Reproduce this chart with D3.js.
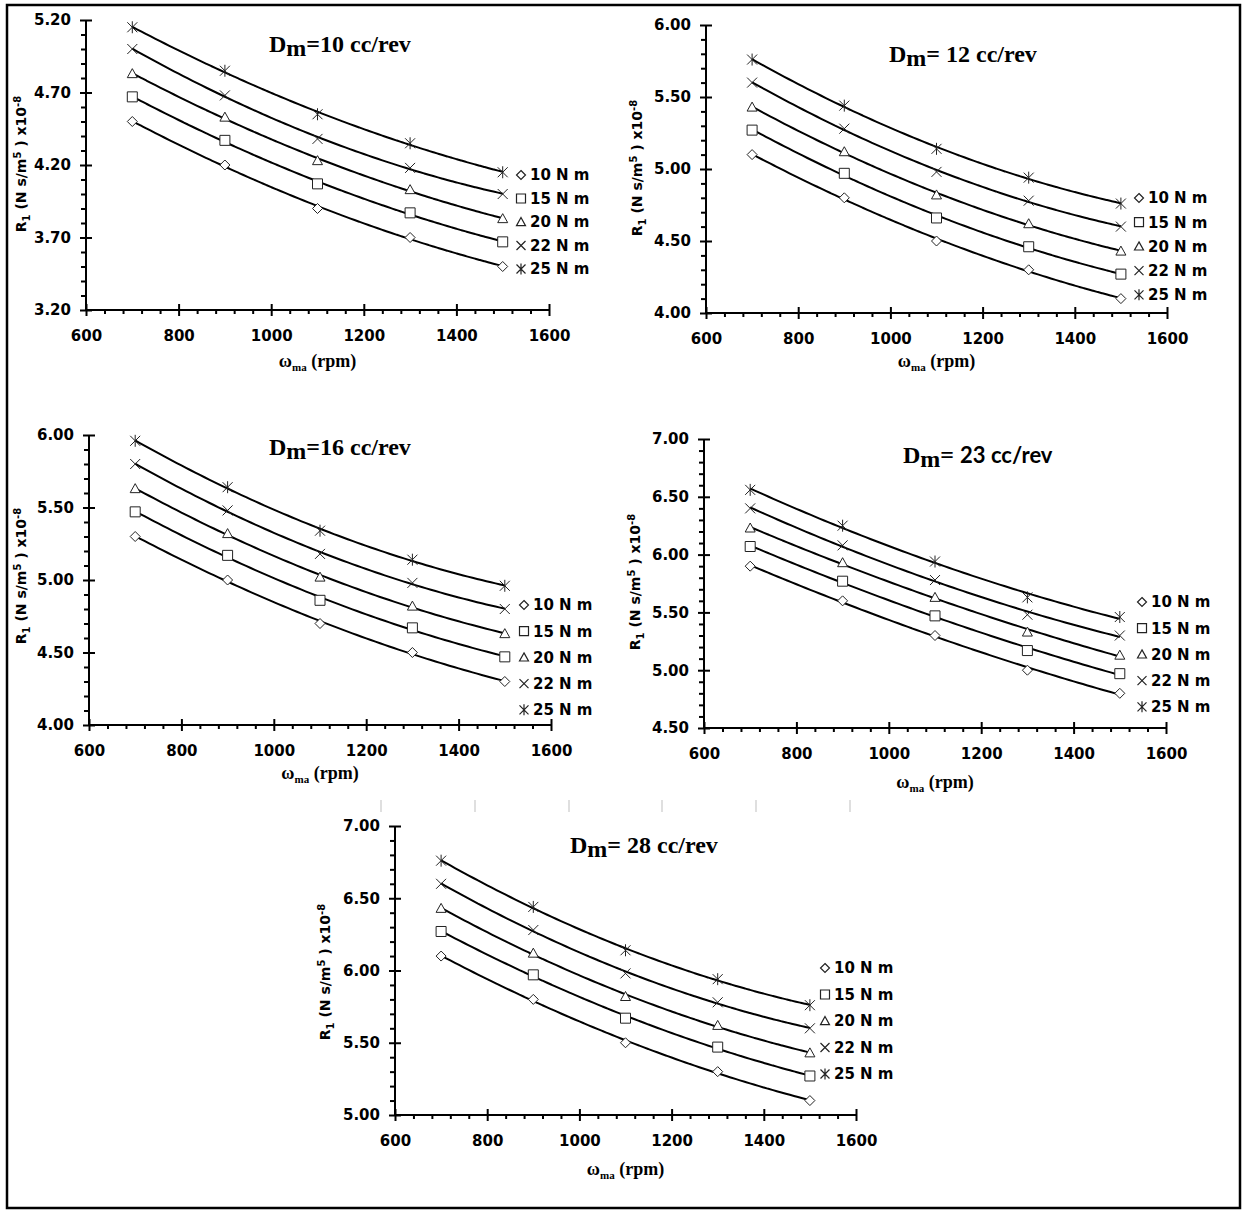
<!DOCTYPE html>
<html lang="en">
<head>
<meta charset="utf-8">
<title>R1 vs motor speed</title>
<script src="https://cdn.jsdelivr.net/npm/d3@7/dist/d3.min.js"></script>
<style>
    body { margin: 0; background: #fff; }
    svg { display: block; }
    .tick text { font: bold 15px "DejaVu Sans", sans-serif; fill: #000; }
    .axis path, .axis line { stroke: #000; stroke-width: 2px; }
    .legend text { font: bold 15px "DejaVu Sans", sans-serif; fill: #000; }
    .ylab { font: bold 14px "DejaVu Sans", sans-serif; fill: #000; }
    .xlab { font: bold 18px "Liberation Serif", serif; fill: #000; }
    .title { font: bold 24px "Liberation Serif", serif; fill: #000; }
</style>
</head>
<body>
<script>
// speeds (rpm) and torque series
const speeds = [700, 900, 1100, 1300, 1500];
const torques = ["10 N m", "15 N m", "20 N m", "22 N m", "25 N m"];
const displacements = ["10", "12", "16", "23", "28"];

// R1 x10^-8, one row per torque
const r1Dm10 = [
    [4.50, 4.20, 3.90, 3.70, 3.50],
    [4.67, 4.37, 4.07, 3.87, 3.67],
    [4.83, 4.53, 4.23, 4.03, 3.83],
    [5.00, 4.68, 4.38, 4.18, 4.00],
    [5.15, 4.85, 4.55, 4.35, 4.15]
];
const r1Dm12 = [
    [5.10, 4.80, 4.50, 4.30, 4.10],
    [5.27, 4.97, 4.66, 4.46, 4.27],
    [5.43, 5.12, 4.82, 4.62, 4.43],
    [5.60, 5.28, 4.98, 4.78, 4.60],
    [5.76, 5.44, 5.14, 4.94, 4.76]
];
const r1Dm16 = [
    [5.30, 5.00, 4.70, 4.50, 4.30],
    [5.47, 5.17, 4.86, 4.67, 4.47],
    [5.63, 5.32, 5.02, 4.82, 4.63],
    [5.80, 5.48, 5.18, 4.98, 4.80],
    [5.96, 5.64, 5.34, 5.14, 4.96]
];
const r1Dm23 = [
    [5.90, 5.60, 5.30, 5.00, 4.80],
    [6.07, 5.77, 5.47, 5.17, 4.97],
    [6.23, 5.93, 5.63, 5.33, 5.13],
    [6.40, 6.08, 5.78, 5.48, 5.30],
    [6.56, 6.25, 5.94, 5.63, 5.46]
];
const r1Dm28 = [
    [6.10, 5.80, 5.50, 5.30, 5.10],
    [6.27, 5.97, 5.67, 5.47, 5.27],
    [6.43, 6.12, 5.82, 5.62, 5.43],
    [6.60, 6.28, 5.98, 5.78, 5.60],
    [6.76, 6.44, 6.14, 5.94, 5.76]
];

const xTicks = [600, 800, 1000, 1200, 1400, 1600];
const yTicksDm10 = [3.2, 3.7, 4.2, 4.7, 5.2];
const yTicksDm12 = [4.0, 4.5, 5.0, 5.5, 6.0];
const yTicksDm16 = [4.0, 4.5, 5.0, 5.5, 6.0];
const yTicksDm23 = [4.5, 5.0, 5.5, 6.0, 6.5, 7.0];
const yTicksDm28 = [5.0, 5.5, 6.0, 6.5, 7.0];

const titleRest = ["=10 cc/rev", "= 12 cc/rev", "=16 cc/rev", "= ", "= 28 cc/rev"];

const allData = [r1Dm10, r1Dm12, r1Dm16, r1Dm23, r1Dm28];
const allYTicks = [yTicksDm10, yTicksDm12, yTicksDm16, yTicksDm23, yTicksDm28];

// where each panel sits on the page
const layout = [
    {x0: 86,  x1: 549,  yT: 20,  yB: 310,  tx: 269, ty: 52,  lx: 521,  ly: 175, ldy: 23.5, yl: 21,  ylc: 164, xly: 367},
    {x0: 706, x1: 1167, yT: 25,  yB: 313,  tx: 889, ty: 62,  lx: 1139, ly: 198, ldy: 24.2, yl: 637, ylc: 168, xly: 367},
    {x0: 89,  x1: 551,  yT: 435, yB: 725,  tx: 269, ty: 455, lx: 524,  ly: 605, ldy: 26.2, yl: 21,  ylc: 576, xly: 779},
    {x0: 704, x1: 1166, yT: 439, yB: 728,  tx: 903, ty: 463, lx: 1142, ly: 602, ldy: 26.2, yl: 635, ylc: 582, xly: 788},
    {x0: 395, x1: 856,  yT: 826, yB: 1115, tx: 570, ty: 853, lx: 825,  ly: 968, ldy: 26.5, yl: 325, ylc: 972, xly: 1175}
];

const W = 1251, H = 1217;
const svg = d3.select("body").append("svg")
    .attr("width", W)
    .attr("height", H)
    .attr("viewBox", [0, 0, W, H]);

svg.append("rect")
    .attr("x", 7).attr("y", 5)
    .attr("width", 1233).attr("height", 1203)
    .attr("fill", "none").attr("stroke", "#000").attr("stroke-width", 2.5);

// faint leftover tick marks above the bottom panel
svg.append("g").selectAll("line")
    .data([381, 475, 569, 662, 756, 850])
    .join("line")
    .attr("x1", d => d).attr("x2", d => d)
    .attr("y1", 800).attr("y2", 812)
    .attr("stroke", "#d4d4d4").attr("stroke-width", 1.5);

// marker shapes, s = full width
function marker(i, s) {
    const h = s / 2;
    switch (i) {
        case 0: return `M0,${-h}L${h},0L0,${h}L${-h},0Z`;
        case 1: return `M${-h},${-h}H${h}V${h}H${-h}Z`;
        case 2: return `M0,${-h}L${h},${h * 0.8}L${-h},${h * 0.8}Z`;
        case 3: return `M${-h},${-h}L${h},${h}M${h},${-h}L${-h},${h}`;
        default: return `M${-h},${-h}L${h},${h}M${h},${-h}L${-h},${h}M0,${-h - 1}V${h + 1}`;
    }
}

function minorTicks(ticks, n) {
    const out = [];
    for (let k = 0; k < ticks.length - 1; k++) {
        const step = (ticks[k + 1] - ticks[k]) / n;
        for (let j = 1; j < n; j++) out.push(ticks[k] + j * step);
    }
    return out;
}

// 2nd order polynomial trendline (least squares) through one series
function polyFit(xs, ys) {
    const m = d3.mean(xs);
    const u = xs.map(v => (v - m) / 100);
    let s0 = u.length, s1 = 0, s2 = 0, s3 = 0, s4 = 0, t0 = 0, t1 = 0, t2 = 0;
    u.forEach((v, i) => {
        s1 += v; s2 += v * v; s3 += v * v * v; s4 += v * v * v * v;
        t0 += ys[i]; t1 += v * ys[i]; t2 += v * v * ys[i];
    });
    const A = [[s0, s1, s2, t0], [s1, s2, s3, t1], [s2, s3, s4, t2]];
    for (let c = 0; c < 3; c++) {
        for (let r = c + 1; r < 3; r++) {
            const f = A[r][c] / A[c][c];
            for (let k = c; k < 4; k++) A[r][k] -= f * A[c][k];
        }
    }
    const b = [0, 0, 0];
    for (let r = 2; r >= 0; r--) {
        let acc = A[r][3];
        for (let k = r + 1; k < 3; k++) acc -= A[r][k] * b[k];
        b[r] = acc / A[r][r];
    }
    return xv => {
        const w = (xv - m) / 100;
        return b[0] + b[1] * w + b[2] * w * w;
    };
}

layout.forEach((L, p) => {
    const data = allData[p];
    const yTicks = allYTicks[p];
    const x = d3.scaleLinear().domain([600, 1600]).range([L.x0, L.x1]);
    const y = d3.scaleLinear().domain(d3.extent(yTicks)).range([L.yB, L.yT]);
    const g = svg.append("g");

    // x axis: majors crossing, minors below
    g.append("g").attr("class", "axis")
        .attr("transform", `translate(0,${L.yB})`)
        .call(d3.axisBottom(x).tickValues(xTicks).tickSize(6).tickPadding(14).tickFormat(d3.format("d")))
        .call(a => a.select(".domain").attr("d", `M${L.x0},0H${L.x1}`));
    g.append("g").attr("class", "axis")
        .attr("transform", `translate(0,${L.yB})`)
        .call(d3.axisTop(x).tickValues(xTicks).tickSize(6).tickFormat(""))
        .call(a => a.select(".domain").remove());
    g.append("g").attr("class", "axis")
        .attr("transform", `translate(0,${L.yB})`)
        .call(d3.axisBottom(x).tickValues(minorTicks(xTicks, 5)).tickSize(4).tickFormat(""))
        .call(a => a.select(".domain").remove());

    // y axis
    g.append("g").attr("class", "axis")
        .attr("transform", `translate(${L.x0},0)`)
        .call(d3.axisLeft(y).tickValues(yTicks).tickSize(6).tickPadding(9).tickFormat(d3.format(".2f")))
        .call(a => a.select(".domain").attr("d", `M0,${L.yT}V${L.yB}`));
    g.append("g").attr("class", "axis")
        .attr("transform", `translate(${L.x0},0)`)
        .call(d3.axisRight(y).tickValues(yTicks).tickSize(6).tickFormat(""))
        .call(a => a.select(".domain").remove());
    g.append("g").attr("class", "axis")
        .attr("transform", `translate(${L.x0},0)`)
        .call(d3.axisLeft(y).tickValues(minorTicks(yTicks, 5)).tickSize(5).tickFormat(""))
        .call(a => a.select(".domain").remove());

    // trendlines and markers
    const xs = d3.range(speeds[0], speeds[speeds.length - 1] + 1, 10);
    data.forEach((row, s) => {
        const fit = polyFit(speeds, row);
        const line = d3.line()
            .x(d => x(d))
            .y(d => y(fit(d)))
            .curve(d3.curveMonotoneX);
        g.append("path")
            .attr("d", line(xs))
            .attr("fill", "none")
            .attr("stroke", "#000")
            .attr("stroke-width", 2);
        g.append("g").selectAll("path")
            .data(row)
            .join("path")
            .attr("transform", (d, i) => `translate(${x(speeds[i])},${y(d)})`)
            .attr("d", marker(s, 10))
            .attr("fill", "#fff")
            .attr("stroke", "#222")
            .attr("stroke-width", 1);
    });

    // legend
    const leg = g.append("g").attr("class", "legend");
    torques.forEach((t, s) => {
        const yy = L.ly + s * L.ldy;
        leg.append("path")
            .attr("transform", `translate(${L.lx},${yy})`)
            .attr("d", marker(s, 9))
            .attr("fill", "#fff").attr("stroke", "#222").attr("stroke-width", 1.2);
        leg.append("text")
            .attr("x", L.lx + 9).attr("y", yy)
            .attr("dy", "0.36em")
            .text(t);
    });

    // title
    const title = g.append("text").attr("class", "title")
        .attr("x", L.tx).attr("y", L.ty);
    title.append("tspan").text("D");
    title.append("tspan").attr("dy", 4).text("m");
    title.append("tspan").attr("dy", -4).text(titleRest[p]);
    if (p === 3) {
        title.append("tspan")
            .style("font-family", "Lato, 'Open Sans', sans-serif")
            .style("font-size", "22px")
            .text(displacements[p] + " cc/rev");
    }

    // axis labels
    const xl = g.append("text").attr("class", "xlab")
        .attr("x", (L.x0 + L.x1) / 2).attr("y", L.xly)
        .attr("text-anchor", "middle");
    xl.append("tspan").text("\u03c9");
    xl.append("tspan").attr("dy", 4).style("font-size", "11px").text("ma");
    xl.append("tspan").attr("dy", -4).text(" (rpm)");

    const yl = g.append("text").attr("class", "ylab")
        .attr("transform", `translate(${L.yl},${L.ylc}) rotate(-90)`)
        .attr("text-anchor", "middle")
        .attr("dy", "0.36em");
    yl.append("tspan").text("R");
    yl.append("tspan").attr("dy", 4).style("font-size", "10px").text("1");
    yl.append("tspan").attr("dy", -4).text(" (N s/m");
    yl.append("tspan").attr("dy", -5).style("font-size", "10px").text("5");
    yl.append("tspan").attr("dy", 5).text(" ) x10");
    yl.append("tspan").attr("dy", -5).style("font-size", "10px").text("-8");
});
</script>
</body>
</html>
